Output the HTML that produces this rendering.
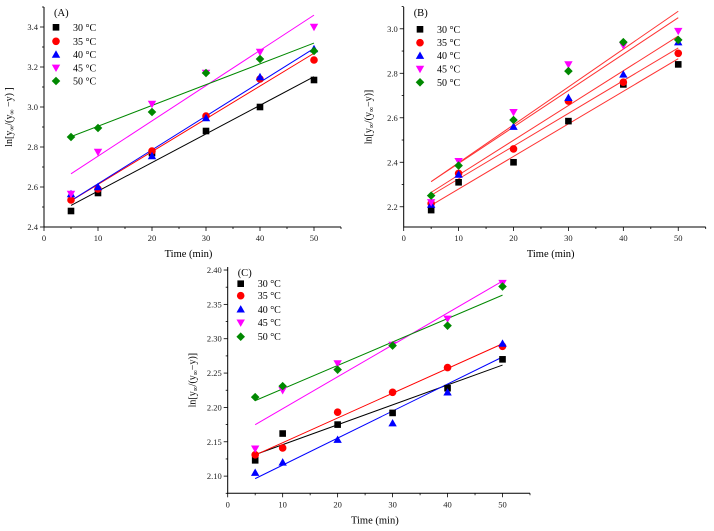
<!DOCTYPE html>
<html><head><meta charset="utf-8"><style>
body{margin:0;background:#fff}
svg{display:block;font-family:"Liberation Serif",serif}
</style></head><body>
<svg id="s" width="714" height="531" viewBox="0 0 714 531"></svg>
<script>
const times=[5,10,20,30,40,50];
const seriesNames=["30 °C","35 °C","40 °C","45 °C","50 °C"];
const aT30=[2.48,2.57,2.77,2.88,3.00,3.135];
const aT35=[2.535,2.59,2.78,2.955,3.14,3.235];
const aT40=[2.565,2.60,2.755,2.945,3.15,3.29];
const aT45=[2.565,2.775,3.015,3.17,3.275,3.40];
const aT50=[2.85,2.895,2.975,3.17,3.24,3.28];
const bT30=[2.185,2.31,2.40,2.585,2.75,2.84];
const bT35=[2.215,2.35,2.46,2.675,2.76,2.89];
const bT40=[2.21,2.345,2.56,2.69,2.795,2.94];
const bT45=[2.22,2.405,2.625,2.84,2.925,2.99];
const bT50=[2.25,2.385,2.59,2.81,2.94,2.95];
const cT30=[2.123,2.162,2.175,2.192,2.228,2.270];
const cT35=[2.131,2.141,2.193,2.222,2.258,2.289];
const cT40=[2.105,2.120,2.153,2.177,2.222,2.293];
const cT45=[2.140,2.225,2.264,2.291,2.329,2.381];
const cT50=[2.215,2.231,2.255,2.290,2.319,2.376];
const xTicks=[0,10,20,30,40,50];
const aYTicks=["2.4","2.6","2.8","3.0","3.2","3.4"];
const bYTicks=["2.2","2.4","2.6","2.8","3.0"];
const cYTicks=["2.10","2.15","2.20","2.25","2.30","2.35","2.40"];

const NS="http://www.w3.org/2000/svg",S=document.getElementById('s');
function el(t,a,p){const e=document.createElementNS(NS,t);for(const k in a)e.setAttribute(k,a[k]);(p||S).appendChild(e);return e;}
const colors=["#000","#f00","#00f","#f0f","#080"];
const lineColors=["#000","#f00","#00f","#f0f","#080"];
function marker(g,i,x,y){const c=colors[i];let m;
 if(i==0)m=el('rect',{x:x-3.3,y:y-3.3,width:6.6,height:6.6,fill:c},g);
 else if(i==1)m=el('circle',{cx:x,cy:y,r:3.8,fill:c},g);
 else if(i==2)m=el('polygon',{points:`${x},${y-4.2} ${x+4.2},${y+3.2} ${x-4.2},${y+3.2}`,fill:c},g);
 else if(i==3)m=el('polygon',{points:`${x},${y+4.2} ${x+4.2},${y-3.2} ${x-4.2},${y-3.2}`,fill:c},g);
 else m=el('polygon',{points:`${x},${y-4.3} ${x+4.3},${y} ${x},${y+4.3} ${x-4.3},${y}`,fill:c},g);
 return m;}
function fit(ys){const n=times.length;let sx=0,sy=0,sxx=0,sxy=0;for(let i=0;i<n;i++){sx+=times[i];sy+=ys[i];sxx+=times[i]*times[i];sxy+=times[i]*ys[i];}const b=(n*sxy-sx*sy)/(n*sxx-sx*sx);return [ (sy-b*sx)/n, b];}
function panel(o){
 const g=el('g',{});
 const X=v=>o.x0+(v-0)/55*(o.x1-o.x0), Y=v=>o.y1-(v-o.ymin)/(o.ymax-o.ymin)*(o.y1-o.y0);
 // axes
 const ax=el('path',{d:`M${o.x0},${o.y0}V${o.y1}H${o.x1}`,stroke:'#000','stroke-width':1,fill:'none'},g);
 
 for(let v=0;v<=55;v+=5){const x=X(v),maj=v%10==0;el('line',{x1:x,x2:x,y1:o.y1,y2:o.y1+(maj?4:2),stroke:'#000','stroke-width':0.8},g);}
 xTicks.forEach(v=>{const t=el('text',{x:X(v),y:o.y1+14,'font-size':8.5,'text-anchor':'middle',fill:'#222'},g);t.textContent=v;});
 o.yt.forEach((s,i)=>{const v=parseFloat(s),y=Y(v);el('line',{x1:o.x0-4,x2:o.x0,y1:y,y2:y,stroke:'#000','stroke-width':0.8},g);
  const ym=Y(v+o.step/2);if(ym>=o.y0-0.5)el('line',{x1:o.x0-2,x2:o.x0,y1:ym,y2:ym,stroke:'#000','stroke-width':0.8},g);
  const t=el('text',{x:o.x0-6,y:y+3,'font-size':8.5,'text-anchor':'end',fill:'#222'},g);t.textContent=s;});
 const ym0=Y(parseFloat(o.yt[0])-o.step/2);if(ym0<=o.y1)el('line',{x1:o.x0-2,x2:o.x0,y1:ym0,y2:ym0,stroke:'#000','stroke-width':0.8},g);
 const xt=el('text',{x:(o.x0+o.x1)/2-4,y:o.y1+30,'font-size':10.5,'text-anchor':'middle'},g);xt.textContent='Time (min)';
 
 const yt=el('text',{x:0,y:0,'font-size':10,'text-anchor':'middle',transform:`translate(${o.x0-32},${(o.y0+o.y1)/2}) rotate(-90)`},g);
 yt.innerHTML=o.ylab;
 // series
 o.data.forEach((ys,i)=>{const [a,b]=fit(ys);
  const ln=el('line',{x1:X(5),y1:Y(a+b*5),x2:X(50),y2:Y(a+b*50),stroke:o.allRed?'#f33':lineColors[i],'stroke-width':1},g);
  });
 o.data.forEach((ys,i)=>{ys.forEach((v,j)=>{const m=marker(g,i,X(times[j]),Y(v));
  });});
 const lab=el('text',{x:o.x0+10,y:o.y0+9,'font-size':10.5},g);lab.textContent=o.label;
 
 seriesNames.forEach((n,i)=>{const y=o.leg[i];const m=marker(g,i,o.lx,y);
  
  const t=el('text',{x:o.lx+17,y:y+3.5,'font-size':10},g);t.textContent=n;
  });
}
panel({name:'panel-a',x0:44,x1:341,y0:7,y1:227,ymin:2.4,ymax:3.5,yt:aYTicks,step:0.2,label:'(A)',lx:56,leg:[27.3,41.3,54.5,67.8,81],
 ylab:'ln[y<tspan font-size="7" dy="2">∞</tspan><tspan dy="-2">/(y</tspan><tspan font-size="7" dy="2">∞</tspan><tspan dy="-2"> −y) ]</tspan>',data:[aT30,aT35,aT40,aT45,aT50]});
panel({name:'panel-b',x0:403.7,x1:705.7,y0:7,y1:227,ymin:2.109,ymax:3.098,yt:bYTicks,step:0.2,label:'(B)',lx:420,leg:[29.3,42.7,55.7,69,82.3],allRed:true,
 ylab:'ln[y<tspan font-size="7" dy="2">∞</tspan><tspan dy="-2">/(y</tspan><tspan font-size="7" dy="2">∞</tspan><tspan dy="-2">−y)]</tspan>',data:[bT30,bT35,bT40,bT45,bT50]});
panel({name:'panel-c',x0:227.7,x1:530,y0:267,y1:493.3,ymin:2.075,ymax:2.4044,yt:cYTicks,step:0.05,label:'(C)',lx:240.7,leg:[283.7,295.7,309.3,322.7,336.7],
 ylab:'ln[y<tspan font-size="7" dy="2">∞</tspan><tspan dy="-2">/(y</tspan><tspan font-size="7" dy="2">∞</tspan><tspan dy="-2">−y)]</tspan>',data:[cT30,cT35,cT40,cT45,cT50]});
</script>
</body></html>
